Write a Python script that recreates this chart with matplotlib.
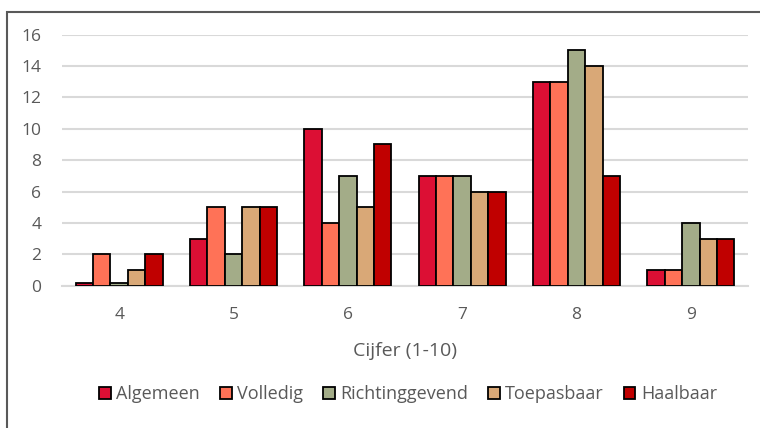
import numpy as np
import matplotlib
matplotlib.use('Agg')
import matplotlib.pyplot as plt
from matplotlib.patches import Rectangle

# waarden per cijfer
cijfers = ['4', '5', '6', '7', '8', '9']
algemeen = [0.2, 3, 10, 7, 13, 1]
volledig = [2, 5, 4, 7, 13, 1]
richtinggevend = [0.2, 2, 7, 7, 15, 4]
toepasbaar = [1, 5, 5, 6, 14, 3]
haalbaar = [2, 5, 9, 6, 7, 3]

reeksen = ['Algemeen', 'Volledig', 'Richtinggevend', 'Toepasbaar', 'Haalbaar']
kleuren = ['#DC0F34', '#FF7257', '#A3AC88', '#D9A877', '#C00000']
data = [algemeen, volledig, richtinggevend, toepasbaar, haalbaar]

plt.rcParams['font.family'] = ['Open Sans', 'DejaVu Sans']
grijs = '#595959'

fig = plt.figure(figsize=(7.6, 4.28), dpi=100)
ax = fig.add_axes([0.0816, 0.3325, 0.9026, 0.5865])

x = np.arange(len(cijfers))
breedte = 0.152
for i, (naam, waarden) in enumerate(zip(reeksen, data)):
    ax.bar(x + (i - 2) * breedte, waarden, breedte, color=kleuren[i],
           edgecolor='black', linewidth=1.3, label=naam, zorder=3)

ax.set_xlim(-0.5, len(cijfers) - 0.5)
ax.set_ylim(0, 16)
ax.set_yticks(np.arange(0, 17, 2))
ax.set_xticks(x)
ax.set_xticklabels(cijfers)
ax.yaxis.grid(True, color='#D9D9D9', linewidth=1.5, zorder=0)
ax.set_axisbelow(True)
for s in ['top', 'right', 'left']:
    ax.spines[s].set_visible(False)
ax.spines['bottom'].set_color('#D9D9D9')
ax.spines['bottom'].set_linewidth(1.5)
ax.tick_params(length=0, colors=grijs, labelsize=12.5)
ax.tick_params(axis='x', pad=15)
ax.tick_params(axis='y', pad=15)
ax.set_xlabel('Cijfer (1-10)', color=grijs, fontsize=14, labelpad=14)

fig.legend(loc='center', bbox_to_anchor=(0.537, 0.079), ncol=5, frameon=False,
           fontsize=13, handlelength=0.65, handleheight=0.65, handletextpad=0.3,
           columnspacing=1.1, labelcolor=grijs)

# kader rond de grafiek
fig.patches.append(Rectangle((7 / 760, -0.1), 1.2, 1.1 - 12 / 428,
                             transform=fig.transFigure, fill=False,
                             edgecolor=grijs, linewidth=1.5))

fig.savefig('out.png', dpi=100)
